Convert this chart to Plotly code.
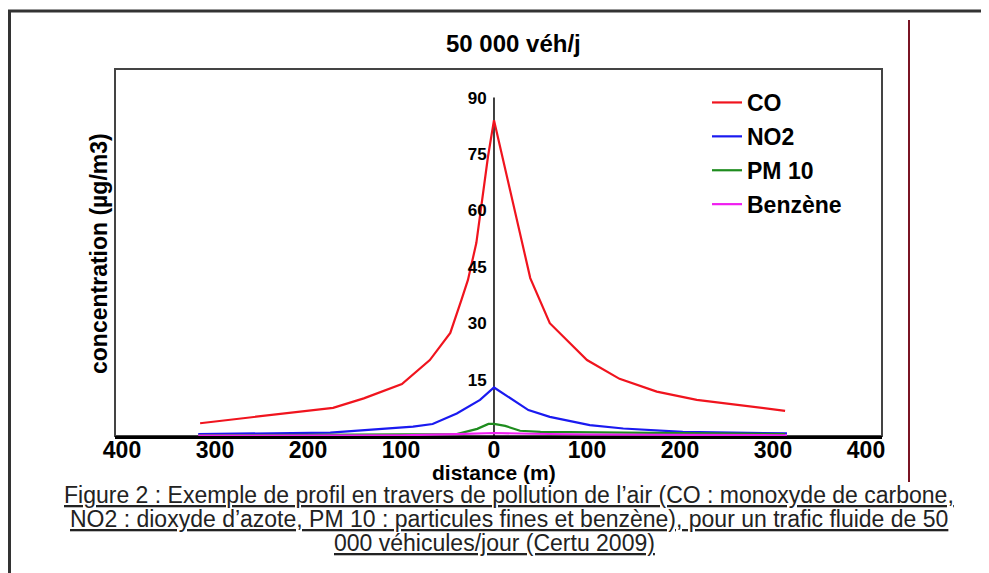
import plotly.graph_objects as go

# ---- data ----
dist_co = [-316, -173, -140, -99, -69, -47, -35, -28, -19, -6.5, 0, 31, 39, 60, 100, 135, 175, 218, 313]
co      = [3.4, 7.5, 10.0, 13.8, 20.2, 27.4, 36.2, 41.5, 51.3, 74.2, 84.0, 50.3, 42.0, 30.0, 20.2, 15.2, 11.8, 9.6, 6.7]

dist_no2 = [-318, -176, -87, -66, -40, -15, 0, 37, 60, 103, 139, 203, 315]
no2      = [0.5, 0.9, 2.5, 3.2, 6.0, 9.6, 12.9, 6.9, 5.1, 2.9, 2.0, 1.1, 0.7]

dist_pm = [-318, -40, -18, -6, 0, 12, 28, 50, 313]
pm10    = [0.2, 0.5, 1.9, 3.2, 3.2, 2.7, 1.4, 1.1, 0.5]

dist_bz = [-318, -100, -40, 0, 40, 100, 315]
benzene = [0.1, 0.2, 0.5, 0.8, 0.6, 0.4, 0.2]

x_tick_vals = [-400, -300, -200, -100, 0, 100, 200, 300, 400]
x_tick_text = ["400", "300", "200", "100", "0", "100", "200", "300", "400"]
y_tick_vals = [15, 30, 45, 60, 75, 90]

title_text = "50 000 véh/j"
x_title = "distance (m)"
y_title = "concentration (µg/m3)"
caption_lines = [
    "Figure 2 : Exemple de profil en travers de pollution de l’air (CO : monoxyde de carbone,",
    "NO2 : dioxyde d’azote, PM 10 : particules fines et benzène), pour un trafic fluide de 50",
    "000 véhicules/jour (Certu 2009)",
]

FONT = "Arial, Liberation Sans, sans-serif"

fig = go.Figure()
series = [
    ("CO", dist_co, co, "#f0141e"),
    ("NO2", dist_no2, no2, "#1a1af0"),
    ("PM 10", dist_pm, pm10, "#1e8c1e"),
    ("Benzène", dist_bz, benzene, "#f01ef0"),
]
for name, xs, ys, col in series:
    fig.add_trace(go.Scatter(x=xs, y=ys, mode="lines", name=name, legendgroup=name,
                             line=dict(color=col, width=2.2)))

# page body has an 8px margin; figure sized to fill the rest of the window
OFF = 8
W, H = 989 - OFF, 573 - OFF
L, T = 115 - OFF, 69 - OFF
R = W - (882 - OFF)
B = H - (436 - OFF)
pw, ph = W - L - R, H - T - B

def px(sx):
    return (sx - OFF - L) / pw

def py(sy):
    return (H - B - (sy - OFF)) / ph

fig.update_layout(
    width=W, height=H, autosize=False,
    margin=dict(l=L, r=R, t=T, b=B, pad=0),
    paper_bgcolor="white", plot_bgcolor="white",
    font=dict(family=FONT, color="black"),
    showlegend=True,
    legend=dict(x=px(707), y=py(81), xanchor="left", yanchor="top",
                font=dict(family=FONT, size=23, weight="bold", color="black"),
                bgcolor="rgba(0,0,0,0)", traceorder="grouped", tracegroupgap=1,
                itemwidth=30),
    xaxis=dict(range=[-407.5, 417.2], tickvals=x_tick_vals, ticktext=x_tick_text,
               showgrid=False, zeroline=False, showline=True, linecolor="black", linewidth=3,
               ticks="", ticklabelstandoff=-9,
               tickfont=dict(family=FONT, size=23, weight="bold", color="black"),
               fixedrange=True),
    yaxis=dict(range=[0, 97.6], tickvals=y_tick_vals, anchor="free", position=px(494),
               showgrid=False, zeroline=False, showline=False,
               ticks="outside", ticklen=4, tickcolor="rgba(0,0,0,0)",
               tickfont=dict(family=FONT, size=17, weight="bold", color="black")),
)

shapes = [
    # plot frame
    dict(type="rect", xref="paper", yref="paper", x0=0, x1=1, y0=0, y1=1,
         line=dict(color="#444444", width=2), layer="below"),
    # centre axis line (x = 0) up to the top tick
    dict(type="line", xref="x", yref="y", x0=0, x1=0, y0=0, y1=max(y_tick_vals),
         line=dict(color="black", width=1.5), layer="below"),
    # outer frame
    dict(type="rect", xref="paper", yref="paper", x0=px(9.5), x1=px(986.5), y0=py(11), y1=py(600),
         line=dict(color="#333333", width=3)),
    # dark red vertical rule
    dict(type="line", xref="paper", yref="paper", x0=px(909), x1=px(909), y0=py(20), y1=py(482),
         line=dict(color="#7a1424", width=2)),
]
fig.update_layout(shapes=shapes)

def label(text, sx, sy, size, bold=True, angle=0, color="black"):
    fig.add_annotation(text=text, xref="paper", yref="paper", x=px(sx), y=py(sy),
                       xanchor="center", yanchor="middle", textangle=angle,
                       showarrow=False,
                       font=dict(family=FONT, size=size, weight="bold" if bold else "normal",
                                 color=color))

label(title_text, 513, 43, 24)
label(x_title, 494, 472, 21)
label(y_title, 99, 254, 23, angle=-90)
for line, sx, sy in zip(caption_lines, [509, 509, 494], [495, 519, 543]):
    label("<u>" + line + "</u>", sx, sy, 23, bold=False, color="#222222")

fig.write_html("out.html")
